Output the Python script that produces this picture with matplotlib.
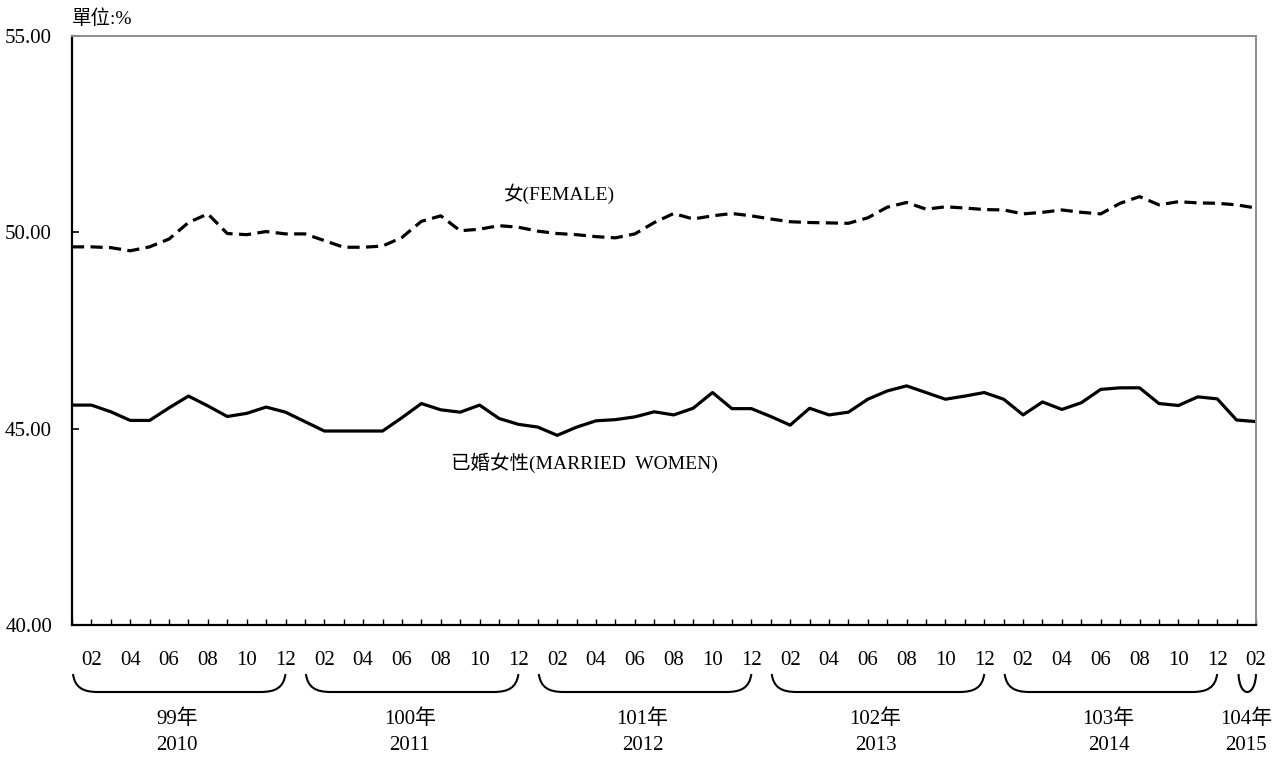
import numpy as np
import matplotlib
matplotlib.use('Agg')
import matplotlib.pyplot as plt
from matplotlib.path import Path
from matplotlib.patches import PathPatch
from matplotlib import transforms

plt.rcParams['font.family'] = ['Liberation Serif', 'Noto Sans CJK TC', 'DejaVu Sans']

# monthly data, Jan 2010 (99年) .. Feb 2015 (104年), unit: %
female = [49.63, 49.63, 49.61, 49.53, 49.63, 49.83, 50.25, 50.47, 49.97, 49.94, 50.02, 49.96,
          49.96, 49.79, 49.62, 49.62, 49.65, 49.87, 50.28, 50.42, 50.04, 50.08, 50.17, 50.13,
          50.03, 49.97, 49.94, 49.89, 49.86, 49.96, 50.25, 50.48, 50.34, 50.42, 50.48, 50.42,
          50.34, 50.27, 50.25, 50.24, 50.23, 50.37, 50.64, 50.76, 50.59, 50.65, 50.62, 50.58,
          50.57, 50.47, 50.51, 50.57, 50.51, 50.47, 50.74, 50.91, 50.70, 50.78, 50.75, 50.74,
          50.70, 50.62]
married = [45.60, 45.60, 45.43, 45.21, 45.21, 45.53, 45.83, 45.58, 45.31, 45.39, 45.55, 45.42,
           45.18, 44.94, 44.94, 44.94, 44.94, 45.28, 45.64, 45.48, 45.42, 45.60, 45.26, 45.11,
           45.04, 44.83, 45.04, 45.20, 45.23, 45.30, 45.43, 45.35, 45.52, 45.92, 45.51, 45.51,
           45.31, 45.09, 45.52, 45.35, 45.42, 45.75, 45.96, 46.09, 45.92, 45.75, 45.83, 45.92,
           45.75, 45.35, 45.68, 45.49, 45.66, 46.00, 46.04, 46.04, 45.64, 45.59, 45.81, 45.76,
           45.22, 45.18]

roc_years = ['99年', '100年', '101年', '102年', '103年', '104年']
ad_years = ['2010', '2011', '2012', '2013', '2014', '2015']
yticks = [40, 45, 50, 55]

x = np.arange(len(female))
last = len(female) - 1

fig = plt.figure(figsize=(12.85, 7.63), dpi=100)
ax = fig.add_axes([72 / 1285, 1 - 625 / 763, 1184 / 1285, 589 / 763])

ax.plot(x, female, color='black', lw=2.3, ls=(0, (3.8, 2.0)))
ax.plot(x, married, color='black', lw=2.3)

ax.set_xlim(0, last)
ax.set_ylim(40, 55)
ax.set_yticks(yticks)
ax.set_yticklabels(['%.2f' % v for v in yticks])

# label only the even months
xlabels = []
for i in x:
    m = i % 12 + 1
    xlabels.append('%02d' % m if m % 2 == 0 else '')
ax.set_xticks(x)
ax.set_xticklabels(xlabels)

ax.tick_params(axis='x', direction='in', length=4, width=1, pad=19, labelsize=15)
ax.tick_params(axis='y', direction='in', length=5, width=1.2, pad=14.4, labelsize=15)

for s in ['left', 'bottom']:
    ax.spines[s].set_linewidth(1.6)
    ax.spines[s].set_color('black')
for s in ['top', 'right']:
    ax.spines[s].set_linewidth(1.4)
    ax.spines[s].set_color('#8c8c8c')

ax.text(25.1, 50.97, '女(FEMALE)', fontsize=14, ha='center', va='center')
ax.text(26.4, 44.13, '已婚女性(MARRIED  WOMEN)', fontsize=14, ha='center', va='center')

fig.text(72 / 1285, 1 - 19 / 763, '單位:%', fontsize=14, ha='left', va='center')

# year brackets under the month labels
trans = transforms.blended_transform_factory(ax.transData, fig.transFigure)
top = 1 - 674 / 763
bot = 1 - 692 / 763
h = top - bot
for k in range(len(roc_years)):
    if k == len(roc_years) - 1:
        x0 = 12 * k + 0.1
        x1 = last
        c = top - h / 0.75
        verts = [(x0, top), (x0 + 0.05, c), (x1 - 0.05, c), (x1, top)]
        codes = [Path.MOVETO, Path.CURVE4, Path.CURVE4, Path.CURVE4]
        xm = 12 * k + 0.5
    else:
        x0 = 12 * k + 0.05
        x1 = 12 * k + 11
        verts = [(x0, top), (x0 + 0.1, bot + 0.25 * h), (x0 + 0.5, bot), (x0 + 1.3, bot),
                 (x1 - 1.3, bot),
                 (x1 - 0.5, bot), (x1 - 0.1, bot + 0.25 * h), (x1, top)]
        codes = [Path.MOVETO, Path.CURVE4, Path.CURVE4, Path.CURVE4,
                 Path.LINETO,
                 Path.CURVE4, Path.CURVE4, Path.CURVE4]
        xm = 12 * k + 5.4
    ax.add_patch(PathPatch(Path(verts, codes), transform=trans, fill=False,
                           lw=1.5, edgecolor='black', clip_on=False))
    ax.text(xm, 1 - 719 / 763, roc_years[k], transform=trans, fontsize=15,
            ha='center', va='center')
    ax.text(xm, 1 - 745 / 763, ad_years[k], transform=trans, fontsize=15,
            ha='center', va='center')

fig.savefig('out.png', dpi=100)
